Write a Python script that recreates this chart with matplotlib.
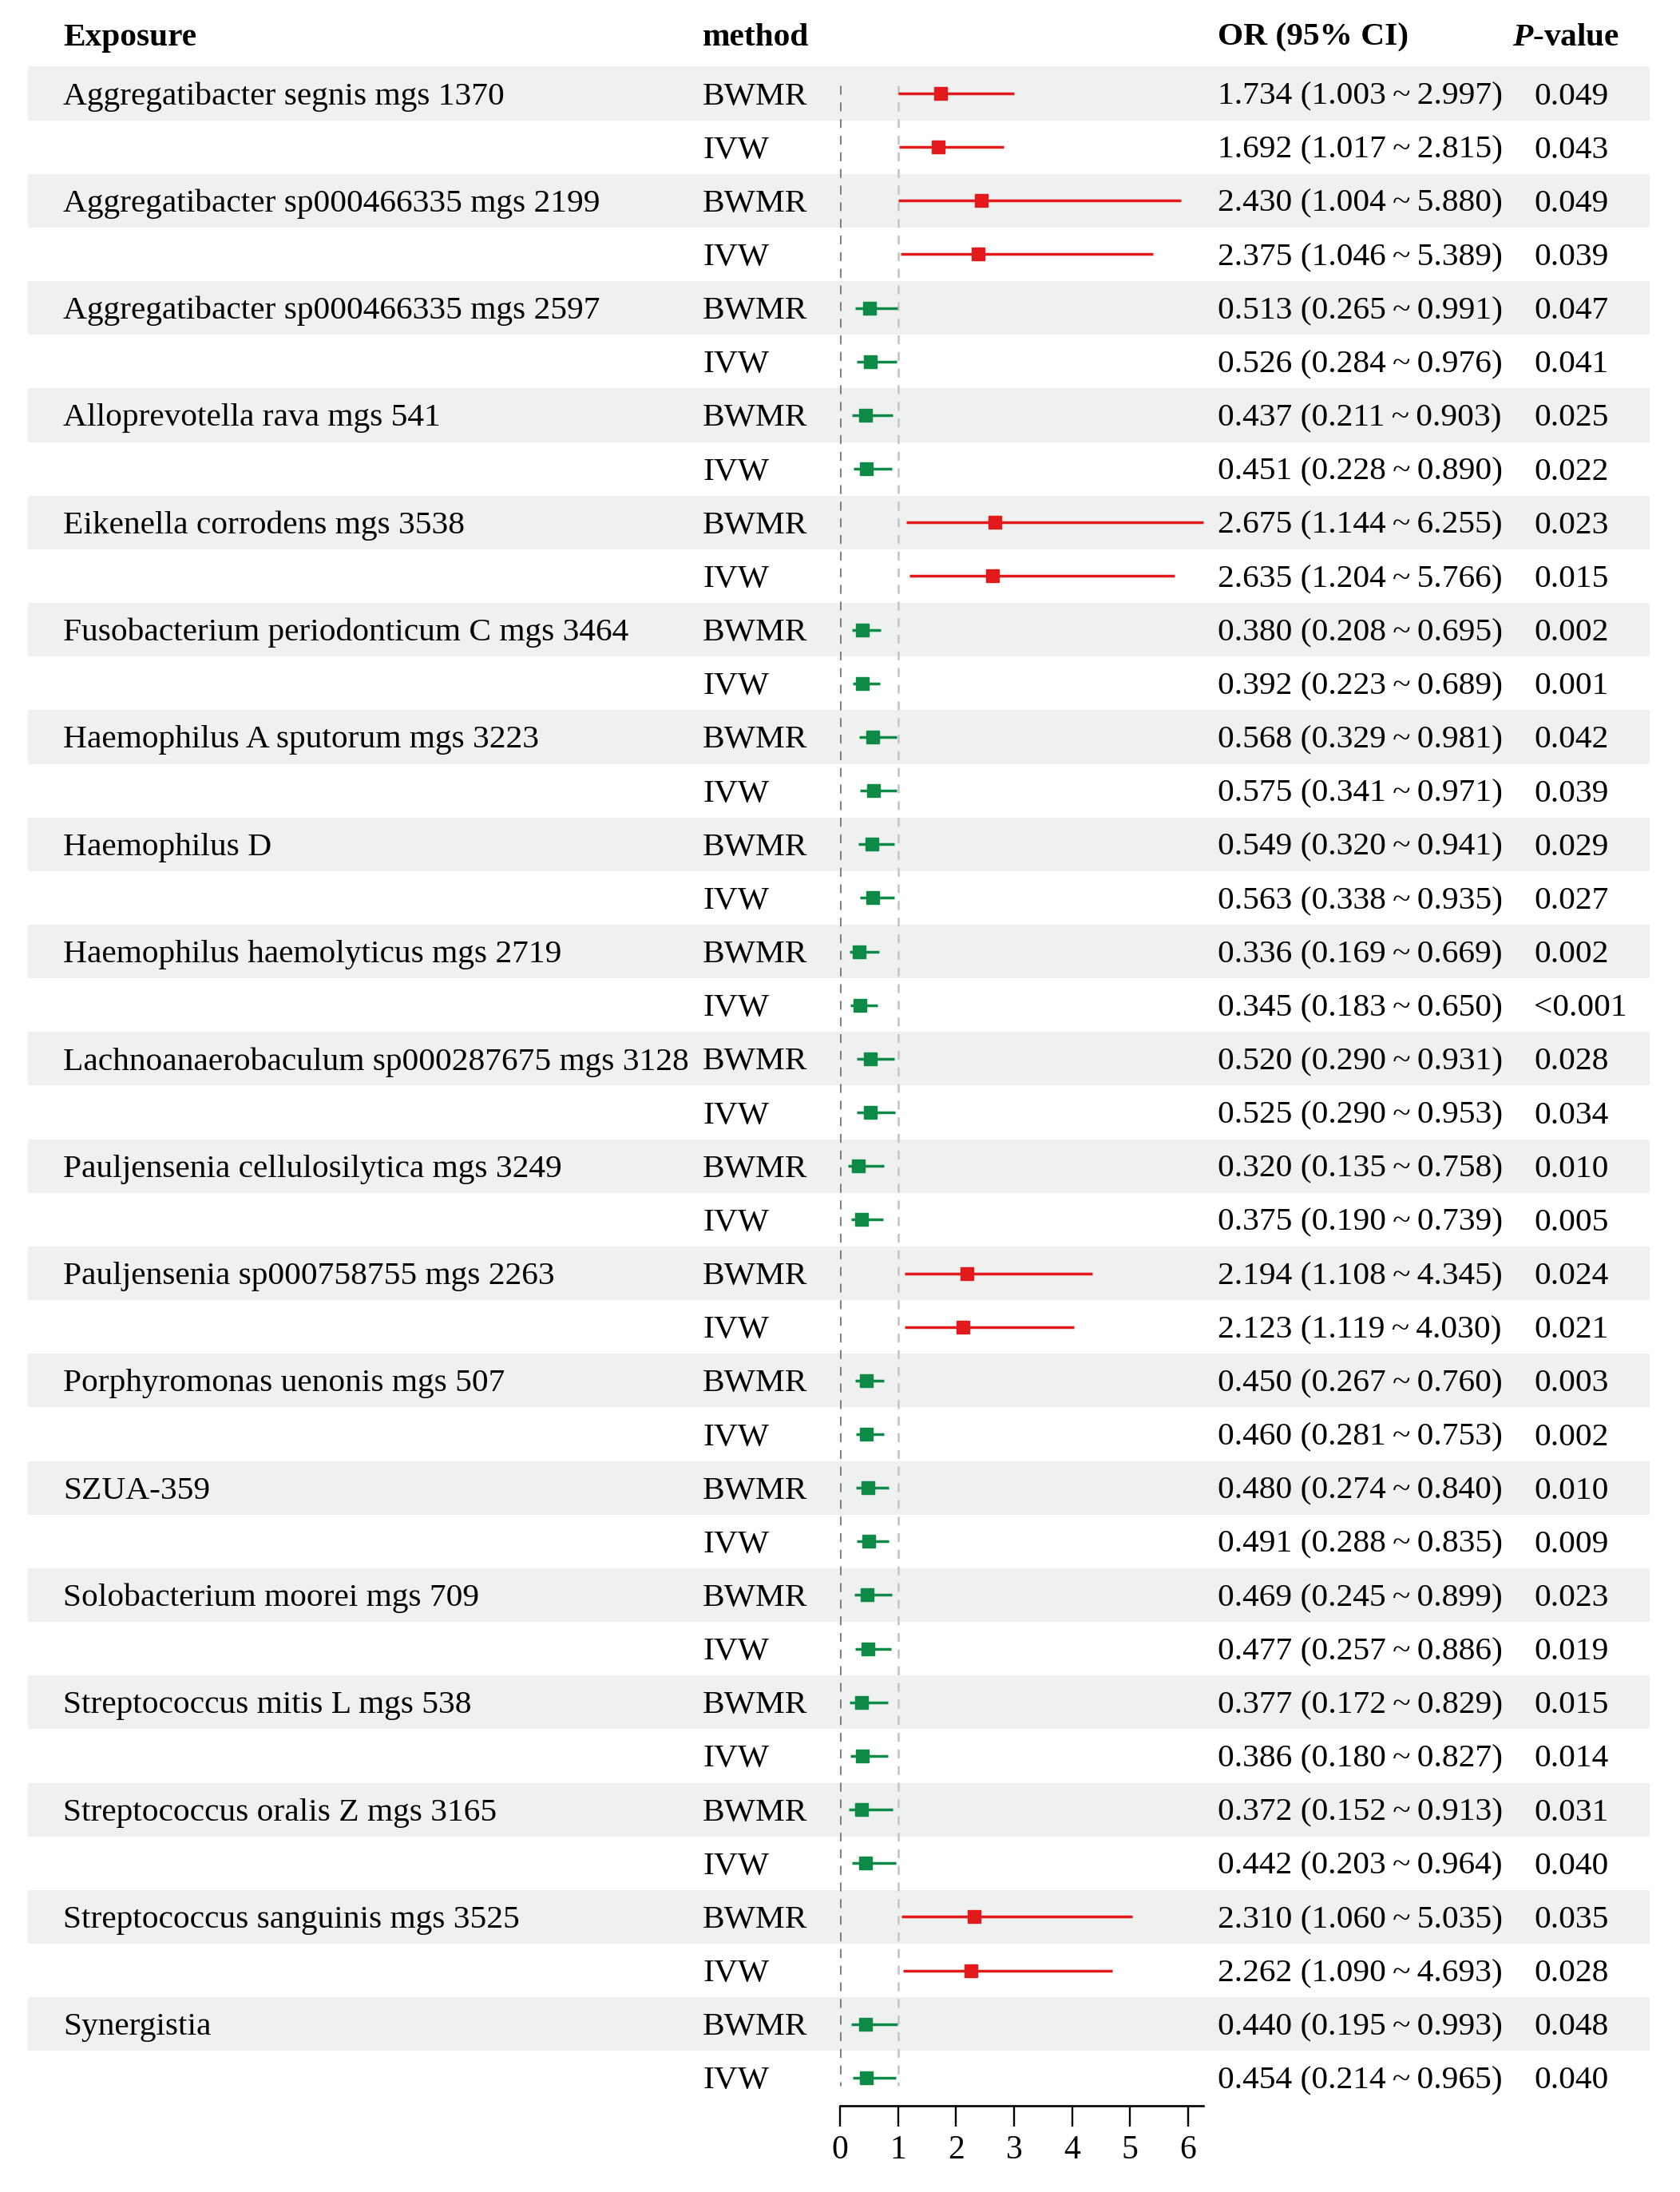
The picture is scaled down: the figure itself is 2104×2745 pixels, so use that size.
import matplotlib
matplotlib.use("Agg")
import matplotlib.pyplot as plt
import matplotlib.transforms as mtransforms
from matplotlib.patches import Rectangle

plt.rcParams['font.family'] = ['Liberation Serif', 'DejaVu Serif']
plt.rcParams['mathtext.fontset'] = 'custom'
plt.rcParams['mathtext.rm'] = 'Liberation Serif'
plt.rcParams['mathtext.it'] = 'Liberation Serif:italic'
plt.rcParams['mathtext.bf'] = 'Liberation Serif:bold'
plt.rcParams['mathtext.bfit'] = 'Liberation Serif:italic:bold'

# data
exposures = [
    "Aggregatibacter segnis mgs 1370",
    "Aggregatibacter sp000466335 mgs 2199",
    "Aggregatibacter sp000466335 mgs 2597",
    "Alloprevotella rava mgs 541",
    "Eikenella corrodens mgs 3538",
    "Fusobacterium periodonticum C mgs 3464",
    "Haemophilus A sputorum mgs 3223",
    "Haemophilus D",
    "Haemophilus haemolyticus mgs 2719",
    "Lachnoanaerobaculum sp000287675 mgs 3128",
    "Pauljensenia cellulosilytica mgs 3249",
    "Pauljensenia sp000758755 mgs 2263",
    "Porphyromonas uenonis mgs 507",
    "SZUA-359",
    "Solobacterium moorei mgs 709",
    "Streptococcus mitis L mgs 538",
    "Streptococcus oralis Z mgs 3165",
    "Streptococcus sanguinis mgs 3525",
    "Synergistia",
]
methods = ["BWMR", "IVW"]

# OR, lower, upper, p  (BWMR row then IVW row for each exposure)
or_vals = [1.734, 1.692, 2.430, 2.375, 0.513, 0.526, 0.437, 0.451, 2.675, 2.635,
           0.380, 0.392, 0.568, 0.575, 0.549, 0.563, 0.336, 0.345, 0.520, 0.525,
           0.320, 0.375, 2.194, 2.123, 0.450, 0.460, 0.480, 0.491, 0.469, 0.477,
           0.377, 0.386, 0.372, 0.442, 2.310, 2.262, 0.440, 0.454]
lower = [1.003, 1.017, 1.004, 1.046, 0.265, 0.284, 0.211, 0.228, 1.144, 1.204,
         0.208, 0.223, 0.329, 0.341, 0.320, 0.338, 0.169, 0.183, 0.290, 0.290,
         0.135, 0.190, 1.108, 1.119, 0.267, 0.281, 0.274, 0.288, 0.245, 0.257,
         0.172, 0.180, 0.152, 0.203, 1.060, 1.090, 0.195, 0.214]
upper = [2.997, 2.815, 5.880, 5.389, 0.991, 0.976, 0.903, 0.890, 6.255, 5.766,
         0.695, 0.689, 0.981, 0.971, 0.941, 0.935, 0.669, 0.650, 0.931, 0.953,
         0.758, 0.739, 4.345, 4.030, 0.760, 0.753, 0.840, 0.835, 0.899, 0.886,
         0.829, 0.827, 0.913, 0.964, 5.035, 4.693, 0.993, 0.965]
pvals = ["0.049", "0.043", "0.049", "0.039", "0.047", "0.041", "0.025", "0.022",
         "0.023", "0.015", "0.002", "0.001", "0.042", "0.039", "0.029", "0.027",
         "0.002", "<0.001", "0.028", "0.034", "0.010", "0.005", "0.024", "0.021",
         "0.003", "0.002", "0.010", "0.009", "0.023", "0.019", "0.015", "0.014",
         "0.031", "0.040", "0.035", "0.028", "0.048", "0.040"]
xticks = [0, 1, 2, 3, 4, 5, 6]

RED = '#E31A1C'
GREEN = '#0E8A47'
BAND = '#EEF1F0'

W, H = 2104, 2745
fig = plt.figure(figsize=(W / 100, H / 100), dpi=100)

# forest axes: x=0 at 1052px, 72.67px per unit; axis line 2637px from top
unit = 72.67
xmax = max(upper)
pitch = 67.16
row0 = 117
ax = fig.add_axes([1052 / W, 108 / H, xmax * unit / W, (H - 108) / H])
ax.set_xlim(0, xmax)
ax.set_ylim((2637 - row0) / pitch, -row0 / pitch)

n = len(or_vals)
rows = list(range(n))
tr = mtransforms.blended_transform_factory(fig.transFigure, ax.transData)

# shaded band behind each BWMR row
for i in rows:
    if i % 2 == 0:
        ax.add_patch(Rectangle((35 / W, i - 0.5), (2066 - 35) / W, 1.0,
                               transform=tr, facecolor=BAND, edgecolor='none',
                               clip_on=False, zorder=0))

# reference lines
ax.vlines(0, -0.15, n - 1 + 0.15, colors='#7a7a7a', linestyles=(0, (4, 3.5)), lw=2, zorder=1)
ax.vlines(1, -0.15, n - 1 + 0.15, colors='#c8c8c8', linestyles=(0, (4, 3.5)), lw=2, zorder=1)

for i in rows:
    c = RED if or_vals[i] > 1 else GREEN
    ax.plot([lower[i], upper[i]], [i, i], color=c, lw=2.5, solid_capstyle='butt',
            zorder=3, clip_on=False)
    ax.plot(or_vals[i], i, marker='s', ms=12, color=c, zorder=4, clip_on=False)

fs = 29.8
dy = 0.06   # text sits a little below the row centre
hy = -1.04
ax.text(79 / W, hy, "Exposure", transform=tr, fontsize=fs, fontweight='bold', va='center')
ax.text(880 / W, hy, "method", transform=tr, fontsize=fs, fontweight='bold', va='center')
ax.text(1525 / W, hy, "OR (95% CI)", transform=tr, fontsize=fs, fontweight='bold', va='center')
ax.text(1894 / W, hy, r"$\bfit{P}$-value", transform=tr, fontsize=fs, fontweight='bold', va='center')

for i in rows:
    if i % 2 == 0:
        ax.text(79 / W, i + dy, exposures[i // 2], transform=tr, fontsize=fs, va='center')
    ax.text(880 / W, i + dy, methods[i % 2], transform=tr, fontsize=fs, va='center')
    ax.text(1525 / W, i + dy, f"{or_vals[i]:.3f} ({lower[i]:.3f}\u2009~\u2009{upper[i]:.3f})",
            transform=tr, fontsize=fs, va='center')
    ax.text(1921 / W, i + dy, pvals[i], transform=tr, fontsize=fs, va='center')

for s in ['top', 'right', 'left']:
    ax.spines[s].set_visible(False)
ax.spines['bottom'].set_linewidth(1.9)
ax.set_xticks(xticks)
ax.set_xticklabels([str(t) for t in xticks])
ax.tick_params(axis='x', length=18.5, width=1.7, labelsize=30, pad=8)
ax.set_yticks([])
ax.patch.set_visible(False)

fig.savefig("out.png", dpi=100)
